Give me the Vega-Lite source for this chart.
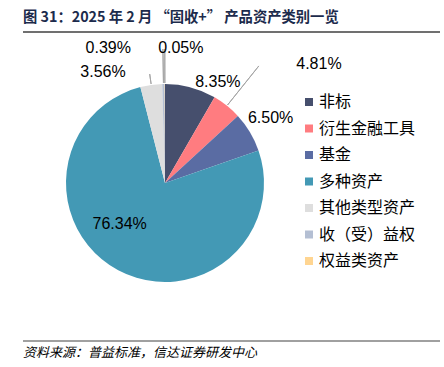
{
  "$schema": "https://vega.github.io/schema/vega-lite/v6.json",
  "width": 330,
  "height": 294,
  "autosize": {"type": "none"},
  "padding": {"left": 0, "top": 36, "right": 114, "bottom": 37},
  "background": "white",
  "config": {"view": {"stroke": null}, "font": "Liberation Sans"},
  "data": {
    "values": [
      {"i": 1, "category": "非标", "value": 8.35, "label": "8.35%"},
      {"i": 2, "category": "衍生金融工具", "value": 4.81, "label": "4.81%"},
      {"i": 3, "category": "基金", "value": 6.50, "label": "6.50%"},
      {"i": 4, "category": "多种资产", "value": 76.34, "label": "76.34%"},
      {"i": 5, "category": "其他类型资产", "value": 3.56, "label": "3.56%"},
      {"i": 6, "category": "收（受）益权", "value": 0.39, "label": "0.39%"},
      {"i": 7, "category": "权益类资产", "value": 0.05, "label": "0.05%"}
    ]
  },
  "encoding": {
    "theta": {"field": "value", "type": "quantitative", "stack": true},
    "order": {"field": "i", "type": "quantitative"}
  },
  "layer": [
    {
      "mark": {"type": "arc", "radius": 99},
      "encoding": {
        "color": {
          "field": "category",
          "type": "nominal",
          "sort": ["非标", "衍生金融工具", "基金", "多种资产", "其他类型资产", "收（受）益权", "权益类资产"],
          "scale": {
            "domain": ["非标", "衍生金融工具", "基金", "多种资产", "其他类型资产", "收（受）益权", "权益类资产"],
            "range": ["#464F6D", "#FF7C80", "#5A6CA3", "#4399B5", "#DEDEDE", "#B4BFD3", "#FFD591"]
          },
          "legend": {
            "orient": "none",
            "legendX": 301,
            "legendY": 58,
            "title": null,
            "padding": 0,
            "symbolType": "square",
            "symbolSize": 64,
            "symbolStrokeWidth": 0,
            "labelFont": "Noto Sans CJK SC",
            "labelFontSize": 16,
            "labelColor": "#000000",
            "labelOffset": 2,
            "rowPadding": 10.5,
            "labelLimit": 200
          }
        }
      }
    },
    {
      "mark": {"type": "arc", "radius": 100, "radius2": 134, "padAngle": 3, "fill": null, "stroke": "#A6A6A6", "strokeWidth": 1},
      "encoding": {
        "strokeOpacity": {"condition": {"test": "datum.i >= 6", "value": 1}, "value": 0}
      }
    },
    {
      "mark": {"type": "arc", "radius": 100, "radius2": 150, "padAngle": 3, "fill": null, "stroke": "#A6A6A6", "strokeWidth": 1},
      "encoding": {
        "strokeOpacity": {"condition": {"test": "datum.i == 2", "value": 1}, "value": 0}
      }
    },
    {
      "mark": {"type": "arc", "radius": 100, "radius2": 110, "padAngle": 3, "fill": null, "stroke": "#A6A6A6", "strokeWidth": 1},
      "encoding": {
        "strokeOpacity": {"condition": {"test": "datum.i == 5", "value": 1}, "value": 0}
      }
    },
    {
      "mark": {"type": "text", "radius": 115, "dx": 23, "dy": 10, "fontSize": 16, "color": "#000000"},
      "encoding": {"text": {"condition": {"test": "datum.i == 1", "field": "label"}, "value": ""}}
    },
    {
      "mark": {"type": "text", "radius": 115, "dx": 82, "dy": -29, "fontSize": 16, "color": "#000000"},
      "encoding": {"text": {"condition": {"test": "datum.i == 2", "field": "label"}, "value": ""}}
    },
    {
      "mark": {"type": "text", "radius": 115, "dx": 7, "dy": -6, "fontSize": 16, "color": "#000000"},
      "encoding": {"text": {"condition": {"test": "datum.i == 3", "field": "label"}, "value": ""}}
    },
    {
      "mark": {"type": "text", "radius": 115, "dx": 9, "dy": -60, "fontSize": 16, "color": "#000000"},
      "encoding": {"text": {"condition": {"test": "datum.i == 4", "field": "label"}, "value": ""}}
    },
    {
      "mark": {"type": "text", "radius": 115, "dx": -46, "dy": 3, "fontSize": 16, "color": "#000000"},
      "encoding": {"text": {"condition": {"test": "datum.i == 5", "field": "label"}, "value": ""}}
    },
    {
      "mark": {"type": "text", "radius": 115, "dx": -55, "dy": -20, "fontSize": 16, "color": "#000000"},
      "encoding": {"text": {"condition": {"test": "datum.i == 6", "field": "label"}, "value": ""}}
    },
    {
      "mark": {"type": "text", "radius": 115, "dx": 16, "dy": -20, "fontSize": 16, "color": "#000000"},
      "encoding": {"text": {"condition": {"test": "datum.i == 7", "field": "label"}, "value": ""}}
    },
    {
      "data": {"values": [{"heading": "图 31：2025 年 2 月 “固收+” 产品资产类别一览"}]},
      "mark": {"type": "text", "align": "left", "baseline": "middle", "font": "Noto Sans CJK SC", "fontWeight": "bold", "fontSize": 14.3, "color": "#1C2B4C"},
      "encoding": {"x": {"value": 23}, "y": {"value": -18}, "text": {"field": "heading"}, "theta": null, "order": null}
    },
    {
      "data": {"values": [{"note": "资料来源：普益标准，信达证券研发中心"}]},
      "mark": {"type": "text", "align": "left", "baseline": "middle", "font": "Noto Sans CJK SC", "fontStyle": "italic", "fontSize": 13, "color": "#000000"},
      "encoding": {"x": {"value": 23}, "y": {"value": 317}, "text": {"field": "note"}, "theta": null, "order": null}
    },
    {
      "data": {"values": [{"a": 1}]},
      "mark": {"type": "rule", "color": "#404040", "strokeWidth": 1.5},
      "encoding": {"x": {"value": 23}, "x2": {"value": 440}, "y": {"value": -4}, "theta": null, "order": null}
    },
    {
      "data": {"values": [{"a": 1}]},
      "mark": {"type": "rule", "color": "#A0A0A0", "strokeWidth": 2},
      "encoding": {"x": {"value": 23}, "x2": {"value": 440}, "y": {"value": 305}, "theta": null, "order": null}
    }
  ]
}
